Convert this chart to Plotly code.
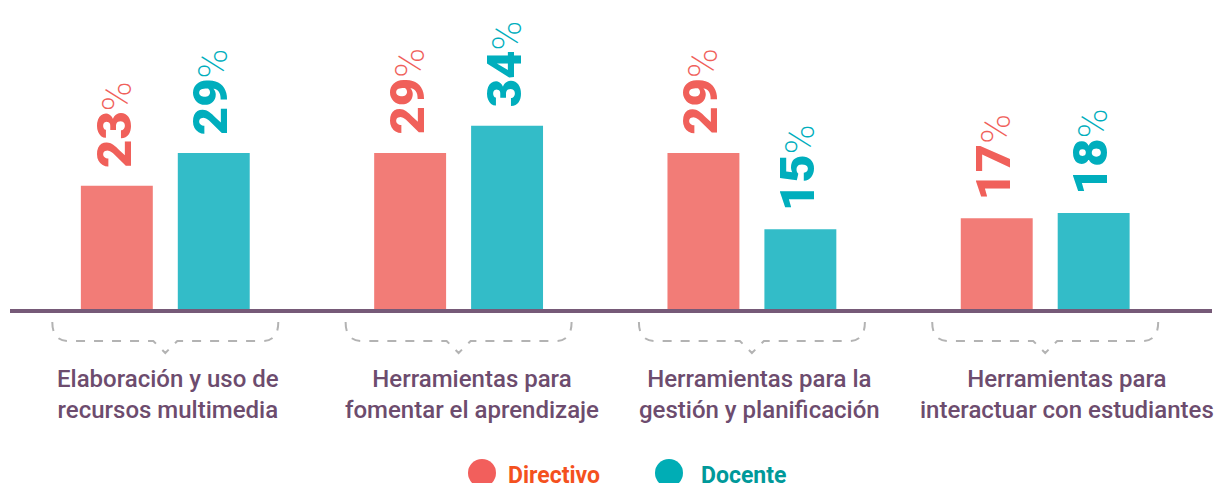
import plotly.graph_objects as go

categories = ["Elaboración y uso de<br>recursos multimedia",
              "Herramientas para<br>fomentar el aprendizaje",
              "Herramientas para la<br>gestión y planificación",
              "Herramientas para<br>interactuar con estudiantes"]
directivo = [23, 29, 29, 17]
docente = [29, 34, 15, 18]
series_names = ["Directivo", "Docente"]

W, H = 1220, 483
# pixel mapping helpers (layout only)
X0PX, XUNIT = 165.3, 293.3
Y0PX, YUNIT = 311, 5.45
def xd(px): return (px - X0PX) / XUNIT
def yd(py): return (Y0PX - py) / YUNIT
def xp(px): return px / W
def yp(py): return 1 - py / H

bar_cols = ["#f27c77", "#33bcc8"]
lab_cols = ["#f0605a", "#00aebd"]
leg_circ = ["#f25f5c", "#00adb5"]
leg_text = ["#f4511e", "#00999a"]
purple = "#6d4c6e"
label_xshift = [3, 13, 8, 22]

xs = list(range(len(categories)))
fig = go.Figure()
for k, vals in enumerate([directivo, docente]):
    fig.add_trace(go.Bar(x=xs, y=vals, name=series_names[k],
                         marker=dict(color=bar_cols[k], line=dict(width=0)),
                         showlegend=False, hoverinfo="skip"))

annotations = []
for k, vals in enumerate([directivo, docente]):
    shift = -48.5 if k == 0 else 48.5
    for i, v in enumerate(vals):
        annotations.append(dict(
            x=i, y=v, xref="x", yref="y", xshift=shift - 3, yshift=16,
            text=f"<span style='font-weight:900'>{v}</span><span style='font-size:40px;font-weight:200'>%</span>",
            textangle=-90, showarrow=False, xanchor="center", yanchor="bottom",
            font=dict(family="Roboto", size=49, color=lab_cols[k])))

for i, c in enumerate(categories):
    annotations.append(dict(
        x=i, y=yp(394), xref="x", yref="paper", text=c, showarrow=False,
        xanchor="center", yanchor="middle", align="center", xshift=label_xshift[i],
        font=dict(family="Roboto", size=24, color=purple, weight=500)))

shapes = []
# baseline
shapes.append(dict(type="line", xref="paper", yref="y", x0=xp(10), x1=xp(1212), y0=0, y1=0,
                   line=dict(color="#765a78", width=4), layer="above"))
# braces
hw = 113 / XUNIT
r = 16 / XUNIT
v = 12 / XUNIT
yt, ym, ytip = yd(322), yd(341), yd(353)
for i in xs:
    L, R = i - hw, i + hw
    path = (f"M {L},{yt} Q {L},{ym} {L + r},{ym} L {i - v},{ym} L {i},{ytip} "
            f"L {i + v},{ym} L {R - r},{ym} Q {R},{ym} {R},{yt}")
    shapes.append(dict(type="path", xref="x", yref="y", path=path,
                       line=dict(color="#b3b3b3", width=2, dash="dash")))

# legend
leg = [(482, 506), (669, 699)]
for k, (cx, tx) in enumerate(leg):
    shapes.append(dict(type="circle", xref="paper", yref="paper",
                       x0=xp(cx - 14), x1=xp(cx + 14), y0=yp(487), y1=yp(459),
                       fillcolor=leg_circ[k], line=dict(width=0)))
    annotations.append(dict(x=xp(tx), y=yp(475), xref="paper", yref="paper",
                            text=f"<b>{series_names[k]}</b>", showarrow=False,
                            xanchor="left", yanchor="middle",
                            font=dict(family="Roboto", size=23, color=leg_text[k])))

fig.update_layout(
    width=W, height=H, margin=dict(l=0, r=0, t=0, b=0),
    paper_bgcolor="white", plot_bgcolor="white",
    barmode="group", bargap=0.339, bargroupgap=0.258,
    xaxis=dict(range=[xd(0), xd(W)], visible=False, fixedrange=True),
    yaxis=dict(range=[yd(H), yd(0)], visible=False, fixedrange=True),
    annotations=annotations, shapes=shapes, showlegend=False,
)
fig.write_html("out.html", config={"displayModeBar": False},
               post_script="document.body.style.margin='0';document.body.style.overflow='hidden';")
